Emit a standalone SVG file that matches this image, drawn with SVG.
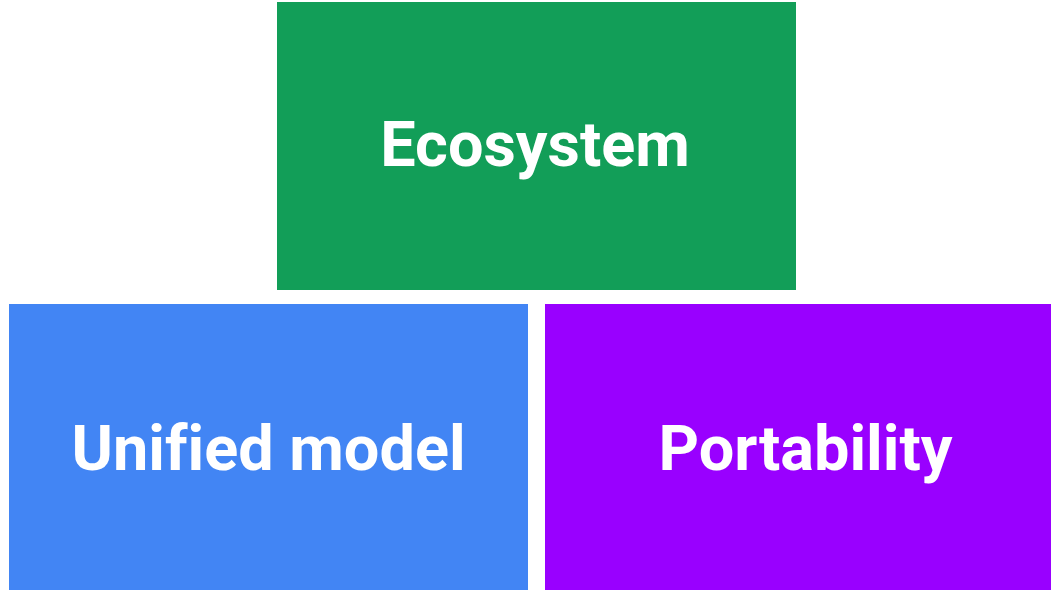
<svg xmlns="http://www.w3.org/2000/svg" width="1051" height="590" viewBox="0 0 1051 590">
  <style>
    .label { font-family: Roboto, "Liberation Sans", sans-serif; font-weight: 700; font-size: 63px; fill: #ffffff; text-anchor: middle; font-variant-ligatures: none; font-feature-settings: "liga" 0; }
  </style>
  <rect width="1051" height="590" fill="#ffffff"/>
  <g id="ecosystem">
    <rect x="277" y="2" width="519" height="288" fill="#129e58"/>
    <text class="label" x="535" y="166">Ecosystem</text>
  </g>
  <g id="unified-model">
    <rect x="9" y="304" width="519" height="286" fill="#4285f4"/>
    <text class="label" x="268.5" y="470">Unified model</text>
  </g>
  <g id="portability">
    <rect x="545" y="304" width="519" height="286" fill="#9900ff"/>
    <text class="label" x="805.5" y="470">Portability</text>
  </g>
  <g id="connectors"/>
</svg>
